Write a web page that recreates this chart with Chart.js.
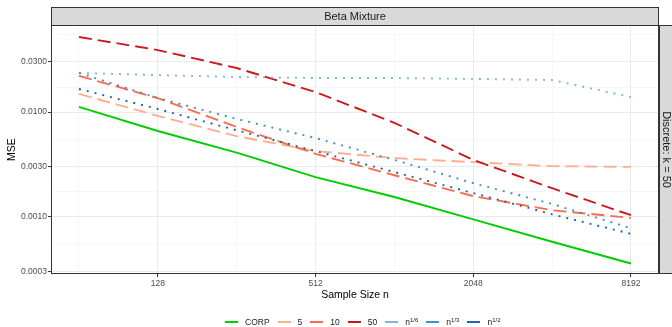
<!DOCTYPE html>
<html>
<head>
<meta charset="utf-8">
<script src="https://cdn.jsdelivr.net/npm/chart.js@4.4.0/dist/chart.umd.min.js"></script>
<style>
    body { margin: 0; background: #fff; }
    #wrap { position: relative; width: 672px; height: 327px; overflow: hidden; }
    #legend { position: absolute; left: 225px; top: 317px; display: flex; align-items: center;
              font-family: "Liberation Sans", Arial, sans-serif; font-size: 8.5px; color: #1a1a1a; white-space: nowrap; }
    #legend .key { display: inline-block; width: 13px; height: 2px; margin-right: 7px; }
    #legend .item { display: flex; align-items: center; margin-right: 8px; }
    #legend sup { font-size: 6px; vertical-align: 3px; }
</style>
</head>
<body>
<div id="wrap">
    <canvas id="mse_chart" width="672" height="327"></canvas>
    <div id="legend"></div>
</div>
<script>
//Sample sizes on the x axis (log2 spaced)
const sampleSizes = [64, 128, 256, 512, 1024, 2048, 4096, 8192];
//MSE values, one array per method
const corp  = [0.0112, 0.0066, 0.0041, 0.0024, 0.00155, 0.00095, 0.00058, 0.00036];
const bins5 = [0.0149, 0.0092, 0.0059, 0.00425, 0.00364, 0.00333, 0.00305, 0.0030];
const bins10 = [0.0221, 0.0136, 0.0072, 0.0040, 0.0025, 0.00158, 0.00116, 0.00098];
const bins50 = [0.052, 0.039, 0.0263, 0.0155, 0.0079, 0.0035, 0.00188, 0.00104];
const root6 = [0.0236, 0.0225, 0.0216, 0.0211, 0.0211, 0.0207, 0.0202, 0.0139];
const root3 = [0.0236, 0.0136, 0.0086, 0.00565, 0.0035, 0.0021, 0.00133, 0.00078];
const root2 = [0.0166, 0.0107, 0.0067, 0.00425, 0.00268, 0.00169, 0.00106, 0.00069];

//Axis breaks
const xMajor = [128, 512, 2048, 8192];
const xMinor = [64, 256, 1024, 4096];
const yMajor = [0.0003, 0.001, 0.003, 0.01, 0.03];
const yMinor = [0.000548, 0.001732, 0.005477, 0.01732, 0.05477];

const FONT = '"Liberation Sans", Arial, sans-serif';

const series = [
    {label: 'CORP', html: 'CORP', data: corp, color: '#00cd00', dash: []},
    {label: '5', html: '5', data: bins5, color: '#fcae91', dash: [13, 6]},
    {label: '10', html: '10', data: bins10, color: '#fb6a4a', dash: [13, 6]},
    {label: '50', html: '50', data: bins50, color: '#cb181d', dash: [13, 6]},
    {label: 'n^1/6', html: 'n<sup>1/6</sup>', data: root6, color: '#7fb8dc', dash: [2, 6]},
    {label: 'n^1/3', html: 'n<sup>1/3</sup>', data: root3, color: '#4292c6', dash: [2, 6]},
    {label: 'n^1/2', html: 'n<sup>1/2</sup>', data: root2, color: '#2166ac', dash: [2, 6]}
];

const isMajor = (list, v) => list.some((m) => Math.abs(m - v) / m < 1e-6);

//Draws the facet strips, panel border and axis titles
const facetPlugin = {
    id: 'facet',
    afterDraw: (chart) => {
        const {ctx, chartArea} = chart;
        const l = chartArea.left, r = chartArea.right, t = chartArea.top, b = chartArea.bottom;
        ctx.save();
        //Top strip
        ctx.fillStyle = '#d9d9d9';
        ctx.fillRect(l, 7, r - l, t - 7);
        ctx.strokeStyle = '#333333';
        ctx.lineWidth = 1;
        ctx.strokeRect(l + 0.5, 7.5, r - l - 1, t - 7);
        //Right strip
        ctx.fillRect(r, t, 30, b - t);
        ctx.strokeRect(r + 0.5, t + 0.5, 30, b - t - 1);
        //Panel border
        ctx.strokeRect(l + 0.5, t + 0.5, r - l - 1, b - t - 1);
        //Strip texts
        ctx.fillStyle = '#1a1a1a';
        ctx.font = '11px ' + FONT;
        ctx.textAlign = 'center';
        ctx.textBaseline = 'middle';
        ctx.fillText('Beta Mixture', (l + r) / 2, 16.5);
        ctx.save();
        ctx.translate(666, (t + b) / 2);
        ctx.rotate(Math.PI / 2);
        ctx.fillText('Discrete: k = 50', 0, 0);
        ctx.restore();
        //Axis titles
        ctx.fillStyle = '#000000';
        ctx.font = '10.5px ' + FONT;
        ctx.fillText('Sample Size n', (l + r) / 2, 295);
        ctx.save();
        ctx.translate(12, (t + b) / 2);
        ctx.rotate(-Math.PI / 2);
        ctx.fillText('MSE', 0, 0);
        ctx.restore();
        ctx.restore();
    }
};

const gridColor = (list) => (c) => (c.tick && isMajor(list, c.tick.value)) ? '#ebebeb' : '#f3f3f3';
const gridWidth = (list) => (c) => (c.tick && isMajor(list, c.tick.value)) ? 1.1 : 0.7;
const tickColor = (list) => (c) => (c.tick && isMajor(list, c.tick.value)) ? '#333333' : 'rgba(0,0,0,0)';

const mseChart = new Chart('mse_chart', {
    type: 'line',
    data: {
        datasets: series.map((s, i) => ({
            label: s.label,
            data: sampleSizes.map((n, j) => ({x: n, y: s.data[j]})),
            borderColor: s.color,
            backgroundColor: s.color,
            borderDash: s.dash,
            borderWidth: 1.9,
            borderCapStyle: 'butt',
            pointRadius: 0,
            tension: 0,
            fill: false,
            order: 6 - i
        }))
    },
    options: {
        responsive: false,
        animation: false,
        devicePixelRatio: 1,
        layout: {padding: {top: 25, right: 13, left: 0, bottom: 0}},
        plugins: {legend: {display: false}, tooltip: {enabled: false}},
        scales: {
            x: {
                type: 'logarithmic',
                min: 50.04,
                max: 10478,
                afterBuildTicks: (scale) => {
                    scale.ticks = xMinor.concat(xMajor).sort((a, b) => a - b).map((v) => ({value: v}));
                },
                afterFit: (scale) => { scale.height = 53; },
                ticks: {
                    autoSkip: false,
                    maxRotation: 0,
                    padding: 2,
                    color: '#4d4d4d',
                    font: {family: FONT, size: 8.5},
                    callback: (v) => isMajor(xMajor, v) ? String(v) : ''
                },
                grid: {color: gridColor(xMajor), lineWidth: gridWidth(xMajor), tickColor: tickColor(xMajor), tickLength: 3, tickWidth: 1},
                border: {display: false}
            },
            y: {
                type: 'logarithmic',
                min: 0.000286,
                max: 0.0676,
                afterBuildTicks: (scale) => {
                    scale.ticks = yMinor.concat(yMajor).sort((a, b) => a - b).map((v) => ({value: v}));
                },
                afterFit: (scale) => { scale.width = 51; },
                ticks: {
                    autoSkip: false,
                    padding: 1,
                    color: '#4d4d4d',
                    font: {family: FONT, size: 8.5},
                    callback: (v) => isMajor(yMajor, v) ? v.toFixed(4) : ''
                },
                grid: {color: gridColor(yMajor), lineWidth: gridWidth(yMajor), tickColor: tickColor(yMajor), tickLength: 3, tickWidth: 1},
                border: {display: false}
            }
        }
    },
    plugins: [facetPlugin]
});

//Builds the legend below the chart
const legendBox = document.getElementById('legend');
series.forEach((s) => {
    const item = document.createElement('span');
    item.className = 'item';
    item.innerHTML = "<span class='key' style='background:" + s.color + "'></span><span>" + s.html + "</span>";
    legendBox.appendChild(item);
});
</script>
</body>
</html>
